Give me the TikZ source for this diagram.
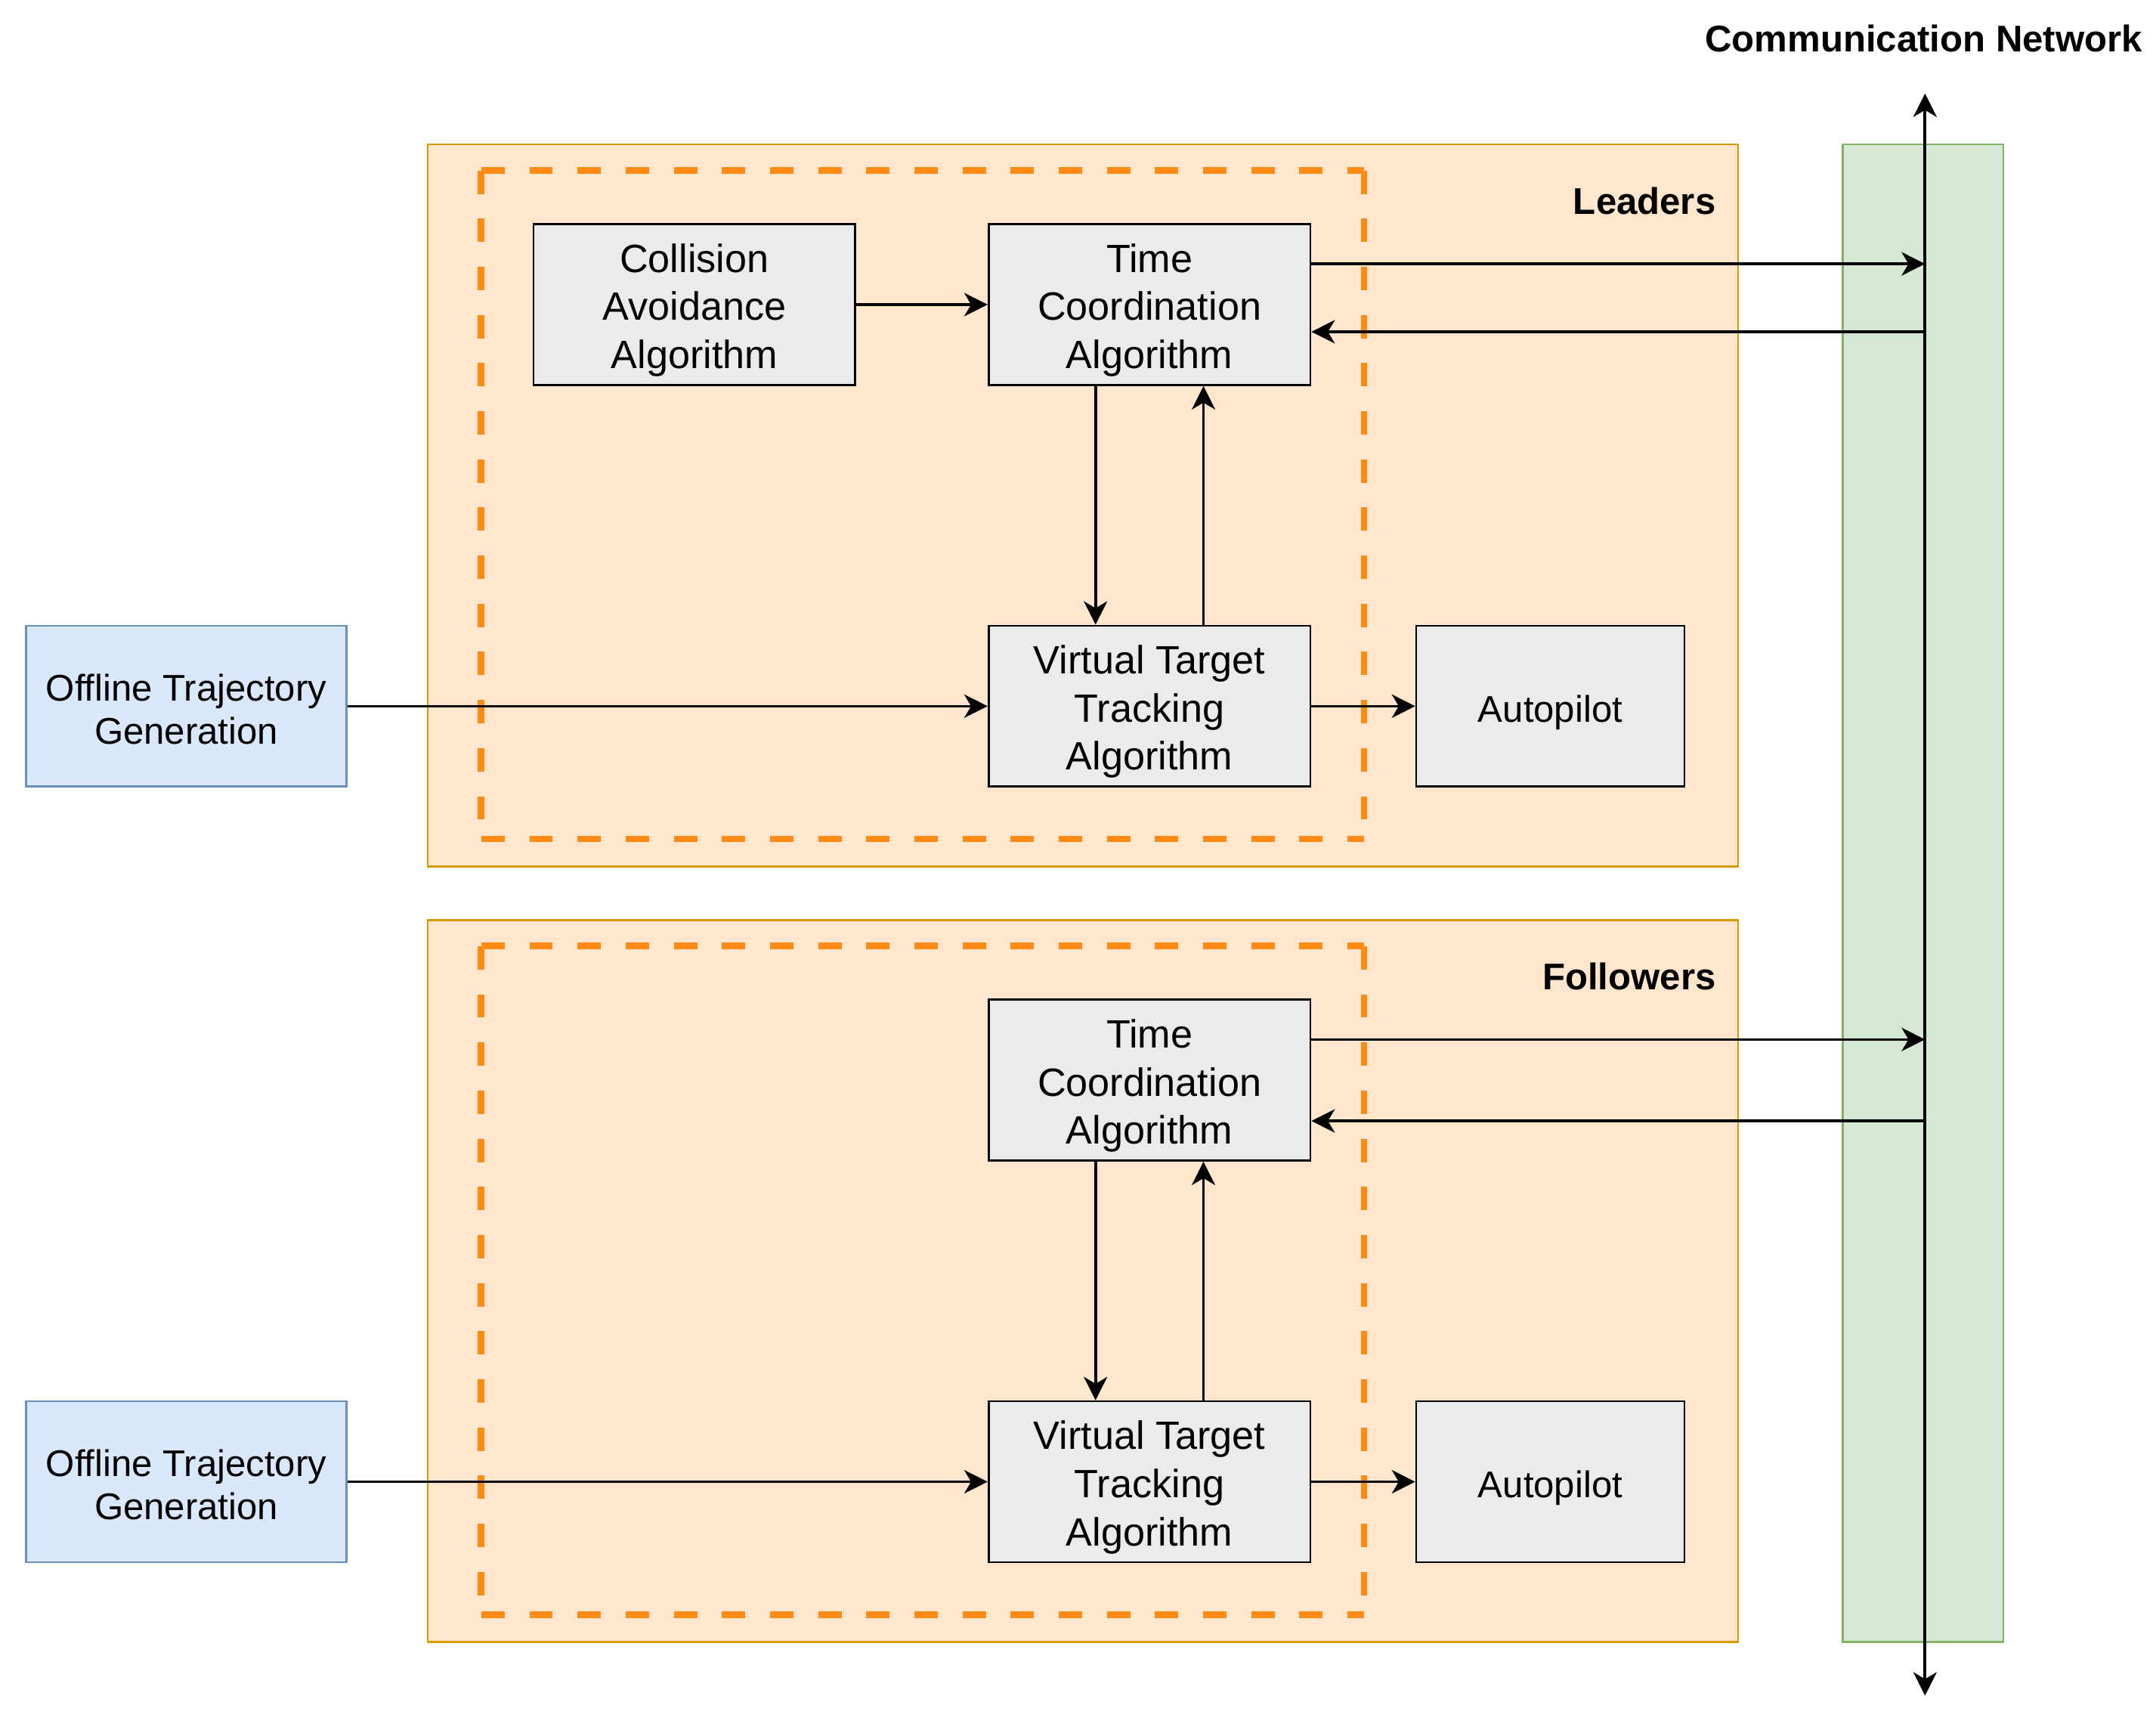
\documentclass[tikz,border=0pt]{standalone}
\usepackage{fontspec}
\setmainfont{Liberation Sans}
\usetikzlibrary{arrows.meta,calc}
\definecolor{peach}{HTML}{FFE6CC}
\definecolor{peachS}{HTML}{D79B00}
\definecolor{dashO}{HTML}{FF8A14}
\definecolor{grayF}{HTML}{EBEBEB}
\definecolor{blueF}{HTML}{DAE8FC}
\definecolor{blueS}{HTML}{6C8EBF}
\definecolor{greenF}{HTML}{D5E8D4}
\definecolor{greenS}{HTML}{82B366}
\newcommand\mystrutG{\rule{0pt}{29pt}}
\newcommand\mystrutO{\rule{0pt}{24pt}}
\tikzset{
  group/.style={draw=peachS, fill=peach, line width=1.5pt, minimum width=953pt, minimum height=525pt, inner sep=0pt},
  netbox/.style={draw=greenS, fill=greenF, line width=1.5pt, minimum width=117pt, minimum height=1089pt, inner sep=0pt},
  gbox/.style={draw=black, fill=grayF, line width=1.5pt, minimum width=234pt, minimum height=117pt, inner sep=0pt, align=center, font=\fontsize{28.7}{35}\selectfont},
  abox/.style={draw=black, fill=grayF, line width=1.5pt, minimum width=195pt, minimum height=117pt, inner sep=0pt, align=center, font=\fontsize{27}{31}\selectfont},
  obox/.style={draw=blueS, fill=blueF, line width=1.5pt, minimum width=233pt, minimum height=117pt, inner sep=0pt, align=center, font=\fontsize{27}{31}\selectfont},
  lbl/.style={inner sep=0pt, font=\fontsize{27}{31}\selectfont\bfseries},
  dashline/.style={draw=dashO, line width=4.8pt, dash pattern=on 17pt off 18pt},
  tip/.tip={Stealth[length=17pt,width=17pt,inset=5pt]},
  conn/.style={line width=2pt, -tip},
  both/.style={line width=2.2pt, tip-tip}
}
\begin{document}
\begin{tikzpicture}[x=1pt,y=-1pt]
\useasboundingbox (0,0) rectangle (1568,1258);
% groups
\node[group] (L) at (787.5,367.5) {};
\node[group] (F) at (787.5,931.5) {};
\node[netbox] (G) at (1398.5,649.5) {};
% dashed frames
\foreach \o in {0,564}{
  \draw[dashline] (350,124+\o) -- (992,124+\o);
  \draw[dashline] (350,124+\o) -- (350,610+\o);
  \draw[dashline] (992,124+\o) -- (992,610+\o);
  \draw[dashline] (350,610+\o) -- (992,610+\o);
}
% labels
\node[lbl, anchor=east] (Ltxt) at (1248,146) {Leaders};
\node[lbl, anchor=east] (Ftxt) at (1248,710) {Followers};
\node[lbl] (Ntxt) at (1399,28) {Communication Network};
% leaders boxes
\node[gbox] (CA) at (505,221.5) {\mystrutG Collision\\Avoidance\\Algorithm};
\node[gbox] (TCA) at (836,221.5) {\mystrutG Time\\Coordination\\Algorithm};
\node[gbox] (VTT) at (836,513.5) {\mystrutG Virtual Target\\Tracking\\Algorithm};
\node[abox] (AP) at (1127.5,513.5) {\mystrutG Autopilot};
\node[obox] (OT) at (135.5,513.5) {\mystrutO Offline Trajectory\\Generation};
% followers boxes
\node[gbox] (TCAf) at (836,785.5) {\mystrutG Time\\Coordination\\Algorithm};
\node[gbox] (VTTf) at (836,1077.5) {\mystrutG Virtual Target\\Tracking\\Algorithm};
\node[abox] (APf) at (1127.5,1077.5) {\mystrutG Autopilot};
\node[obox] (OTf) at (135.5,1077.5) {\mystrutO Offline Trajectory\\Generation};
% network line
\coordinate (netT) at (1400,68);
\coordinate (netB) at (1400,1233);
\draw[both] (netT) -- (netB);
% leaders connectors
\draw[conn] (CA.east) -- (TCA.west);
\coordinate (a1) at ($(TCA.north east)!0.25!(TCA.south east)$);
\draw[conn] (a1) -- (a1 -| netT);
\coordinate (a2) at ($(TCA.north east)!0.6667!(TCA.south east)$);
\draw[conn] (a2 -| netT) -- (a2);
\coordinate (a3) at ($(TCA.south west)!0.3333!(TCA.south east)$);
\draw[conn] (a3) -- (a3 |- VTT.north);
\coordinate (a4) at ($(VTT.north west)!0.6667!(VTT.north east)$);
\draw[conn] (a4) -- (a4 |- TCA.south);
\draw[conn] (OT.east) -- (VTT.west);
\draw[conn] (VTT.east) -- (AP.west);
% followers connectors
\coordinate (b1) at ($(TCAf.north east)!0.25!(TCAf.south east)$);
\draw[conn] (b1) -- (b1 -| netT);
\coordinate (b2) at ($(TCAf.north east)!0.75!(TCAf.south east)$);
\draw[conn] (b2 -| netT) -- (b2);
\coordinate (b3) at ($(TCAf.south west)!0.3333!(TCAf.south east)$);
\draw[conn] (b3) -- (b3 |- VTTf.north);
\coordinate (b4) at ($(VTTf.north west)!0.6667!(VTTf.north east)$);
\draw[conn] (b4) -- (b4 |- TCAf.south);
\draw[conn] (OTf.east) -- (VTTf.west);
\draw[conn] (VTTf.east) -- (APf.west);
\end{tikzpicture}
\end{document}
